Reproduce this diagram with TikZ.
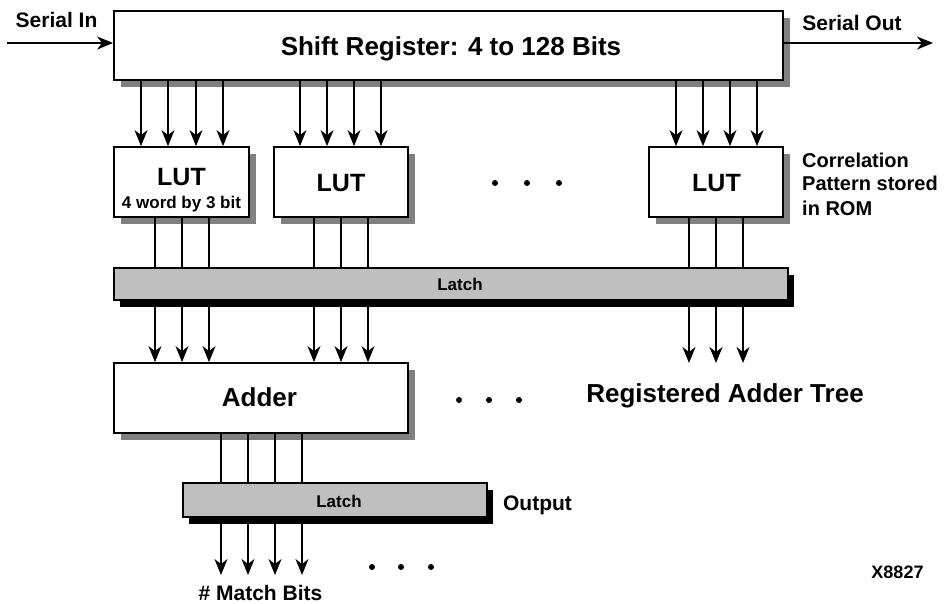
\documentclass[tikz,border=0pt]{standalone}
\usepackage{fontspec}
\setmainfont{Liberation Sans}
\usetikzlibrary{arrows.meta}

\tikzset{
  txt/.style={font=\bfseries\fontsize{#1}{#1}\selectfont, inner sep=0pt, anchor=base},
  box/.style={draw, line width=1.8pt, fill=white, inner sep=0pt,
    preaction={fill=black!50, draw=none, transform canvas={xshift=7pt, yshift=-7pt}}},
  latchbar/.style={draw, line width=1.4pt, fill=black!25, inner sep=0pt,
    preaction={fill=black, draw=none, transform canvas={xshift=6pt, yshift=-7pt}}},
  sig/.style={line width=1.2pt, -{Stealth[length=16pt, width=13pt, inset=5pt]}},
  wire/.style={line width=1.2pt},
  dot/.style={circle, fill=black, inner sep=0pt, minimum size=6pt},
}

\begin{document}
\begin{tikzpicture}[x=1pt, y=-1pt]
\useasboundingbox (0,0) rectangle (948,603);

% ---- blocks ----
\node[box, minimum width=669pt, minimum height=69pt] (sr) at (448.5,45.5) {};
\node[box, minimum width=135pt, minimum height=70pt] (lut1) at (181.5,182) {};
\node[box, minimum width=134pt, minimum height=70pt] (lut2) at (341,182) {};
\node[box, minimum width=134pt, minimum height=70pt] (lut3) at (716,182) {};
\node[latchbar, minimum width=674pt, minimum height=32pt] (latch1) at (451,284) {};
\node[box, minimum width=294pt, minimum height=70pt] (adder) at (261,398) {};
\node[latchbar, minimum width=304pt, minimum height=34pt] (latch2) at (335,500) {};

% ---- texts ----
\node[txt=26] (srt) at (451,55) {Shift Register: 4 to 128 Bits};
\node[txt=21] (sin) at (56.5,27) {Serial In};
\node[txt=21] (sout) at (852,30) {Serial Out};
\node[txt=25] (lut1t) at (181.5,185) {LUT};
\node[txt=17] (lut1s) at (181.5,208) {4 word by 3 bit};
\node[txt=25] (lut2t) at (341,191) {LUT};
\node[txt=25] (lut3t) at (716.5,191) {LUT};
\node[txt=20, anchor=base west] (cp1) at (802,167) {Correlation};
\node[txt=20, anchor=base west] (cp2) at (802,190.5) {Pattern stored};
\node[txt=20, anchor=base west] (cp3) at (802,215) {in ROM};
\node[txt=17] (latch1t) at (460,290) {Latch};
\node[txt=26] (addert) at (259.5,406) {Adder};
\node[txt=26] (rat) at (725,402) {Registered Adder Tree};
\node[txt=17] (latch2t) at (339,507) {Latch};
\node[txt=21] (outt) at (537.5,510) {Output};
\node[txt=21] (mbt) at (260.5,600) {\# Match Bits};
\node[txt=18] (xid) at (897.5,578) {X8827};

% ---- ellipsis dots ----
\foreach \x [count=\i] in {495,527,559} \node[dot] (da\i) at (\x,183) {};
\foreach \x [count=\i] in {459,489,519} \node[dot] (db\i) at (\x,400) {};
\foreach \x [count=\i] in {372,401,431} \node[dot] (dc\i) at (\x,567) {};

% ---- serial in / out ----
\coordinate (si) at (7,43);
\coordinate (so) at (933,43);
\draw[sig] (si) -- (si -| sr.west);
\draw[sig] (sr.east |- so) -- (so);

% ---- shift register taps into the LUTs ----
\foreach \x in {141,168,196,223} \draw[sig] (sr.south -| \x,0) -- (lut1.north -| \x,0);
\foreach \x in {300,327,354,381} \draw[sig] (sr.south -| \x,0) -- (lut2.north -| \x,0);
\foreach \x in {676,703,730,757} \draw[sig] (sr.south -| \x,0) -- (lut3.north -| \x,0);

% ---- LUT outputs into the latch ----
\foreach \x in {155,182,209} \draw[wire] (lut1.south -| \x,0) -- (latch1.north -| \x,0);
\foreach \x in {314,341,368} \draw[wire] (lut2.south -| \x,0) -- (latch1.north -| \x,0);
\foreach \x in {689,716,743} \draw[wire] (lut3.south -| \x,0) -- (latch1.north -| \x,0);

% ---- latch into the adder tree ----
\foreach \x in {155,182,209,314,341,368} \draw[sig] (latch1.south -| \x,0) -- (adder.north -| \x,0);
\foreach \x [count=\i] in {689,716,743} {
  \coordinate (tr\i) at (\x,363);
  \draw[sig] (latch1.south -| tr\i) -- (tr\i);
}

% ---- adder to output latch and match bits ----
\foreach \x [count=\i] in {221,248,275,302} {
  \draw[wire] (adder.south -| \x,0) -- (latch2.north -| \x,0);
  \coordinate (mb\i) at (\x,575);
  \draw[sig] (latch2.south -| mb\i) -- (mb\i);
}
\end{tikzpicture}
\end{document}
